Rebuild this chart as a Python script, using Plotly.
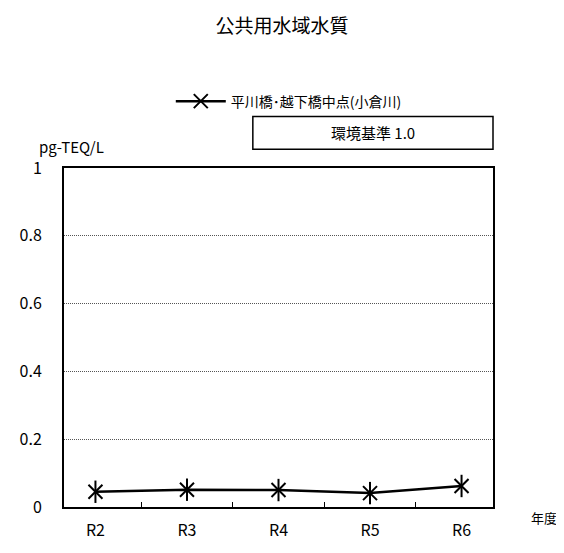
import plotly.graph_objects as go

years = ["R2", "R3", "R4", "R5", "R6"]
values = [0.045, 0.051, 0.050, 0.041, 0.062]
series_name = "平川橋･越下橋中点(小倉川)"
title_text = "公共用水域水質"
unit_text = "pg-TEQ/L"
xlabel_text = "年度"
standard_text = "環境基準 1.0"
y_ticks = [0, 0.2, 0.4, 0.6, 0.8, 1]
y_ticktext = ["0", "0.2", "0.4", "0.6", "0.8", "1"]

FONT = "Liberation Sans Narrow, Arial Narrow, Noto Sans CJK JP"
CJK = "Noto Sans CJK JP"

# page body has an 8px default margin; figure is sized so it fills the window
W, H = 556, 545
OFF = 8

fig = go.Figure()
fig.add_trace(go.Scatter(
    x=years, y=values, mode="lines+markers", name=series_name,
    line=dict(color="black", width=2.5),
    marker=dict(symbol="x-thin-open", size=14, color="black",
                line=dict(color="black", width=2)),
))
fig.add_trace(go.Scatter(
    x=years, y=values, mode="markers", showlegend=False, hoverinfo="skip",
    marker=dict(symbol="line-ns-open", size=16, color="black",
                line=dict(color="black", width=2)),
))

fig.update_layout(
    width=W, height=H,
    margin=dict(l=50 - OFF, r=W - (493 - OFF), t=168 - OFF, b=H - (510 - OFF)),
    paper_bgcolor="white", plot_bgcolor="white",
    font=dict(family=FONT, size=15, color="black"),
    title=dict(text=title_text, x=(282 - OFF) / W, xanchor="center",
               y=1 - (26 - OFF) / H, yanchor="middle",
               font=dict(size=19, family=CJK)),
    showlegend=True,
    legend=dict(orientation="h", x=0.524, xanchor="center", y=1.196,
                yanchor="middle", font=dict(size=14, family=CJK),
                itemwidth=50, bgcolor="rgba(0,0,0,0)"),
    xaxis=dict(type="category", tickson="boundaries", ticks="inside",
               ticklen=5, tickwidth=1, tickcolor="black",
               showline=True, linecolor="black", linewidth=2, mirror=True,
               showgrid=False, tickfont=dict(size=16), ticklabelstandoff=8),
    yaxis=dict(range=[0, 1], tickvals=y_ticks, ticktext=y_ticktext,
               showline=True, linecolor="black", linewidth=2, mirror=True,
               showgrid=True, gridcolor="#555555", gridwidth=1,
               griddash="1px,1px",
               zeroline=False, ticks="", ticklabelstandoff=17,
               tickfont=dict(size=16)),
)

fig.add_shape(type="rect", xref="paper", yref="paper",
              x0=(245 - 50) / 443, x1=1.0,
              y0=(510 - 149) / 342, y1=(510 - 116) / 342,
              line=dict(color="black", width=1.5), fillcolor="white")
fig.add_annotation(text=standard_text, xref="paper", yref="paper",
                   x=(369 - 50) / 443, y=(510 - 132) / 342,
                   xanchor="center", yanchor="middle", showarrow=False,
                   font=dict(size=15, family=CJK))
fig.add_annotation(text=unit_text, xref="paper", yref="paper",
                   x=(22 - 50) / 443, y=(510 - 146) / 342,
                   xanchor="left", yanchor="middle", showarrow=False,
                   font=dict(size=15, family=FONT))
fig.add_annotation(text=xlabel_text, xref="paper", yref="paper",
                   x=(561 - 50) / 443, y=(510 - 521) / 342,
                   xanchor="right", yanchor="middle", showarrow=False,
                   font=dict(size=13, family=CJK))

fig.write_html("out.html")
